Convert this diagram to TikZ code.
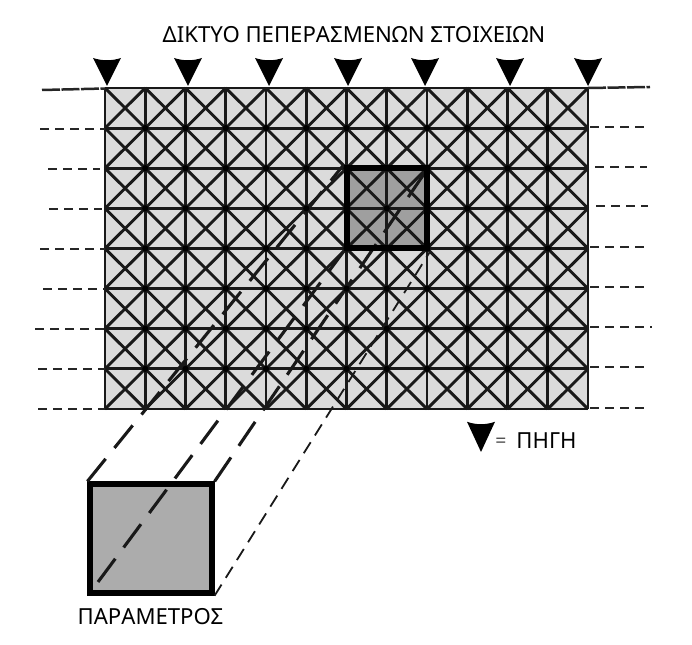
\documentclass[tikz,border=0pt]{standalone}
\usepackage{fontspec}
\setmainfont{Noto Sans}
\tikzset{
  label/.style={inner sep=0pt,font=\fontsize{12.6}{15}\selectfont},
  gridline/.style={line width=0.58mm,black!90},
  table/.style={line width=0.55mm,dash pattern=on 1.7mm off 1.3mm,black!85},
  shoreline/.style={line width=0.5mm,dash pattern=on 3.6mm off 0.3mm,black!85},
  boxedge/.style={draw,rectangle,line width=1.3mm,inner sep=0pt},
  edgeheavy/.style={line width=0.62mm,dash pattern=on 5.8mm off 2.8mm,black!90},
  edgelight/.style={line width=0.36mm,dash pattern=on 2.6mm off 1.6mm,black!90},
  source/.pic={\fill[black] (-14,-28) .. controls (-5,-25) and (5,-25) .. (14,-28) -- (0,0) -- cycle;}
}
\begin{document}
\begin{tikzpicture}[x=0.2mm,y=-0.2mm]
\useasboundingbox (0,0) rectangle (692,645);

\fill[gray!28] (105,88) rectangle (588,409);
\node [boxedge,draw=none,fill=gray!75,minimum width=16mm,minimum height=16mm] (cell) at(387,208){};
\node [boxedge,fill=gray!65,line width=1.05mm,minimum width=24.4mm,minimum height=21.8mm] (param) at(151,538.5){};
\coordinate (hidden) at(98,582);

\draw[edgeheavy] (param.north west) -- (cell.north west);
\draw[edgeheavy] (param.north east) -- (cell.north east);
\draw[edgeheavy] (hidden) -- (cell.south west);
\draw[edgelight] (param.south east) -- (cell.south east);

\foreach \i in {0,...,11}{
  \foreach \j in {0,...,7}{
    \draw[gridline] (105+40.25*\i,88+40.125*\j) -- ++(40.25,40.125);
    \draw[gridline] (105+40.25*\i+40.25,88+40.125*\j) -- ++(-40.25,40.125);
  }
}
\foreach \i in {0,...,12}
  \draw[gridline] (105+40.25*\i,88) -- (105+40.25*\i,409);
\foreach \j in {0,...,8}
  \draw[gridline] (105,88+40.125*\j) -- (588,88+40.125*\j);
\foreach \i in {1,...,11}
  \foreach \j in {1,...,7}
    \fill[black] (105+40.25*\i,88+40.125*\j) circle (0.62mm);

\node [boxedge,minimum width=16mm,minimum height=16mm] (cellrim) at(387,208){};

% water table, left and right
\coordinate (topl) at(42,90);
\coordinate (topr) at(650,87);
\draw[shoreline] (topl) -- (105,88.5);
\draw[shoreline] (588,88) -- (topr);
\foreach \a/\b/\y in {40/105/129,48/100/169,49/102/209,40/105/249,43/105/289,35/105/329,38/105/369,38/105/409}{
  \coordinate (la\y) at(\a,\y);
  \coordinate (lb\y) at(\b,\y);
  \draw[table] (la\y) -- (lb\y);
}
\foreach \a/\b/\y in {590/650/127,595/647/167,596/648/206,590/650/247,590/650/287,590/652/327,590/650/367,590/650/408}{
  \coordinate (ra\y) at(\a,\y);
  \coordinate (rb\y) at(\b,\y);
  \draw[table] (ra\y) -- (rb\y);
}

\foreach \x in {107,188,269,348,425,510,588}
  \pic at(\x,86) {source};

\node [label] (title) at(354,34.5){ΔΙΚΤΥΟ ΠΕΠΕΡΑΣΜΕΝΩΝ ΣΤΟΙΧΕΙΩΝ};
\node [label] (name) at(150.5,617){ΠΑΡΑΜΕΤΡΟΣ};
\pic at(481,452) [yscale=1.08] {source};
\node [inner sep=0pt,font=\bfseries\fontsize{11}{12}\selectfont,black!70] (equals) at(501,443){=};
\node [label] (legend) at(546.5,441){ΠΗΓΗ};
\end{tikzpicture}
\end{document}
